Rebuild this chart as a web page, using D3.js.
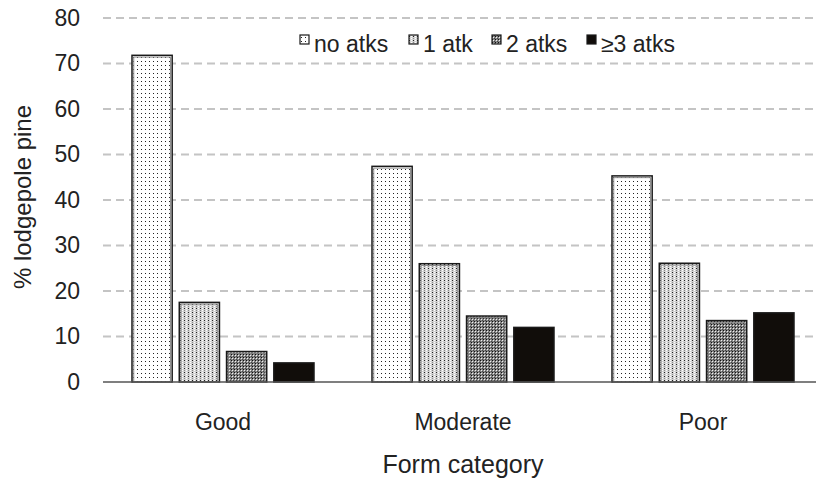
<!DOCTYPE html>
<html><head><meta charset="utf-8">
<script src="https://cdn.jsdelivr.net/npm/d3@7"></script>
<style>html,body{margin:0;padding:0;background:#fff;}svg{display:block;font-family:"Liberation Sans",Arial,sans-serif;}</style>
</head><body>
<svg id="c" width="816" height="482"></svg>
<script>
const categories = ["Good", "Moderate", "Poor"];
const seriesNames = ["no atks", "1 atk", "2 atks", "≥3 atks"];
const noAtks = [71.8, 47.4, 45.3];
const oneAtk = [17.5, 26.0, 26.1];
const twoAtks = [6.7, 14.5, 13.5];
const threePlus = [4.2, 12.0, 15.2];
const yTicks = [0, 10, 20, 30, 40, 50, 60, 70, 80];
const seriesValues = [noAtks, oneAtk, twoAtks, threePlus];

const svg = d3.select("#c");
const defs = svg.append("defs");

function pat(id, size, bg, dots) {
  const p = defs.append("pattern").attr("id", id).attr("patternUnits", "userSpaceOnUse")
    .attr("width", size).attr("height", size);
  p.append("rect").attr("width", size).attr("height", size).attr("fill", bg);
  dots.forEach(d => p.append("rect").attr("x", d[0]).attr("y", d[1]).attr("width", 1).attr("height", 1).attr("fill", d[2]));
}
pat("p0", 4, "#ffffff", [[1, 1, "#222"]]);
pat("p1", 4, "#d4d4d4", [[0, 0, "#222"], [2, 2, "#ffffff"], [2, 0, "#ffffff"], [0, 2, "#888"]]);
pat("p2", 3, "#858585", [[0, 0, "#111"], [1, 1, "#f0f0f0"], [2, 2, "#444"]]);
const fills = ["url(#p0)", "url(#p1)", "url(#p2)", "#110d0a"];

const y = d3.scaleLinear().domain([0, 80]).range([382, 18]);
const x0 = d3.scaleBand().domain(categories).range([103, 823]).paddingInner(0).paddingOuter(0);
const groupW = 182;
const x1 = d3.scaleBand().domain(seriesNames).range([0, groupW]).paddingInner(0.15).paddingOuter(0);

svg.append("g").selectAll("line").data(yTicks.filter(t => t > 0)).join("line")
  .attr("x1", 103).attr("x2", 813)
  .attr("y1", d => y(d)).attr("y2", d => y(d))
  .attr("stroke", "#c4c4c4").attr("stroke-width", 2).attr("stroke-dasharray", "8,5");

const yAxis = d3.axisLeft(y).tickValues(yTicks).tickSize(0).tickPadding(0);
const gy = svg.append("g").attr("transform", "translate(80,0)").call(yAxis);
gy.select(".domain").remove();
gy.selectAll("text").attr("font-size", 23).attr("fill", "#222").attr("font-family", "Liberation Sans, Arial, sans-serif");

const data = [];
categories.forEach((c, i) => seriesNames.forEach((s, j) => data.push({c, s, j, v: seriesValues[j][i]})));
const off = (x0.bandwidth() - groupW) / 2;
const bars = svg.append("g").selectAll("g").data(data).join("g");
bars.append("rect")
  .attr("x", d => x0(d.c) + off + x1(d.s))
  .attr("y", d => y(d.v))
  .attr("width", x1.bandwidth())
  .attr("height", d => y(0) - y(d.v))
  .attr("fill", d => fills[d.j])
  .attr("stroke", "#1a1a1a").attr("stroke-width", 1.5);
bars.filter(d => d.j < 3).append("rect")
  .attr("x", d => x0(d.c) + off + x1(d.s) + 1.75)
  .attr("y", d => y(d.v) + 1.75)
  .attr("width", x1.bandwidth() - 3.5)
  .attr("height", d => Math.max(0, y(0) - y(d.v) - 1.75))
  .attr("fill", "none").attr("stroke", "#8a8a8a").attr("stroke-width", 1);

svg.append("line").attr("x1", 103).attr("x2", 816).attr("y1", y(0)).attr("y2", y(0))
  .attr("stroke", "#555").attr("stroke-width", 1.5);

const xAxis = d3.axisBottom(x0).tickSize(0).tickPadding(0);
const gx = svg.append("g").attr("transform", "translate(0,413)").call(xAxis);
gx.select(".domain").remove();
gx.selectAll("text").attr("font-size", 23).attr("fill", "#222").attr("dy", 0)
  .attr("font-family", "Liberation Sans, Arial, sans-serif").attr("y", 17);

svg.append("text").attr("x", 463).attr("y", 473).attr("text-anchor", "middle")
  .attr("font-size", 25).attr("fill", "#222").text("Form category");
svg.append("text").attr("transform", "translate(31,197) rotate(-90)").attr("text-anchor", "middle")
  .attr("font-size", 24).attr("fill", "#222").text("% lodgepole pine");

const legX = [300, 409, 492, 587];
const leg = svg.append("g").selectAll("g").data(seriesNames).join("g")
  .attr("transform", (d, i) => `translate(${legX[i]},0)`);
leg.append("rect").attr("x", 0).attr("y", 35).attr("width", 9).attr("height", 9)
  .attr("fill", (d, i) => fills[i]).attr("stroke", "#1a1a1a").attr("stroke-width", 1.2);
leg.append("text").attr("x", 14).attr("y", 52).attr("font-size", 23).attr("fill", "#222").text(d => d);
</script>
</body></html>
